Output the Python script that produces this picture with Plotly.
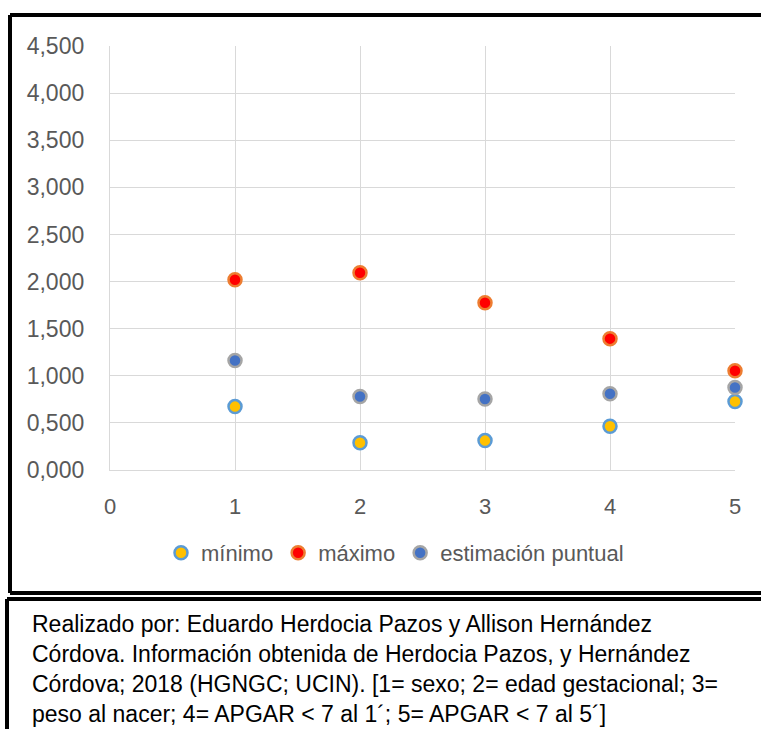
import plotly.graph_objects as go

categories = [1, 2, 3, 4, 5]
minimo = [0.673, 0.290, 0.312, 0.465, 0.727]
maximo = [2.020, 2.093, 1.775, 1.394, 1.053]
estimacion = [1.163, 0.780, 0.753, 0.809, 0.876]
y_ticks = [0, 0.5, 1.0, 1.5, 2.0, 2.5, 3.0, 3.5, 4.0, 4.5]
x_ticks = [0, 1, 2, 3, 4, 5]
caption = ("Realizado por: Eduardo Herdocia Pazos y Allison Hernández<br>"
           "Córdova. Información obtenida de Herdocia Pazos, y Hernández<br>"
           "Córdova; 2018 (HGNGC; UCIN). [1= sexo; 2= edad gestacional; 3=<br>"
           "peso al nacer; 4= APGAR &lt; 7 al 1´; 5= APGAR &lt; 7 al 5´]")

W, H = 761, 729
L, R, T, B = 110, 26, 46, 259
pw, ph = W - L - R, H - T - B


def px(x):
    return (x - L) / pw


def py(y):
    return (H - B - y) / ph


fig = go.Figure()
series = [
    ("mínimo", minimo, "#FFC000", "#5B9BD5"),
    ("máximo", maximo, "#FF0000", "#ED7D31"),
    ("estimación puntual", estimacion, "#4472C4", "#A5A5A5"),
]
for name, vals, fill, edge in series:
    fig.add_trace(go.Scatter(
        x=categories, y=vals, mode="markers", name=name, cliponaxis=False,
        marker=dict(size=13, color=fill, line=dict(color=edge, width=2.5)),
    ))

font = "Liberation Sans, Arial, sans-serif"
fig.update_layout(
    width=W, height=H, autosize=False,
    margin=dict(l=L, r=R, t=T, b=B),
    paper_bgcolor="white", plot_bgcolor="white",
    separators=",.",
    font=dict(family=font, color="#595959", size=22),
    showlegend=True,
    legend=dict(orientation="h", x=px(395), xanchor="center", y=py(553), yanchor="middle",
                font=dict(size=22, color="#595959"), itemwidth=30, tracegroupgap=0),
    xaxis=dict(range=[0, 5], tickvals=x_ticks, showgrid=True, gridcolor="#D9D9D9",
               gridwidth=1.3, zeroline=False, showline=True, linecolor="#D9D9D9",
               linewidth=1.3, ticks="", ticklabelstandoff=16,
               tickfont=dict(size=22, color="#595959")),
    yaxis=dict(range=[0, 4.5], tickvals=y_ticks, tickformat=".3f", showgrid=True,
               gridcolor="#D9D9D9", gridwidth=1.3, zeroline=False, showline=True,
               linecolor="#D9D9D9", linewidth=1.3, ticks="", ticklabelstandoff=20,
               tickfont=dict(size=23, color="#595959")),
)

shapes = [
    # chart box border
    dict(type="line", xref="paper", yref="paper", x0=px(10), x1=px(770), y0=py(15), y1=py(15),
         line=dict(color="black", width=4)),
    dict(type="line", xref="paper", yref="paper", x0=px(10), x1=px(10), y0=py(15), y1=py(593),
         line=dict(color="black", width=4)),
    dict(type="line", xref="paper", yref="paper", x0=px(10), x1=px(770), y0=py(593), y1=py(593),
         line=dict(color="black", width=4)),
    # caption box border
    dict(type="line", xref="paper", yref="paper", x0=px(7), x1=px(770), y0=py(599), y1=py(599),
         line=dict(color="black", width=4)),
    dict(type="line", xref="paper", yref="paper", x0=px(7), x1=px(7), y0=py(599), y1=py(740),
         line=dict(color="black", width=4)),
]
fig.update_layout(shapes=shapes)

fig.add_annotation(
    xref="paper", yref="paper", x=px(30), y=py(609), xanchor="left", yanchor="top",
    text=caption, showarrow=False, align="left",
    font=dict(family=font, size=23, color="black"),
)

fig.write_html("out.html", config={"displayModeBar": False},
               post_script="document.body.style.margin='0';document.body.style.overflow='hidden';")
